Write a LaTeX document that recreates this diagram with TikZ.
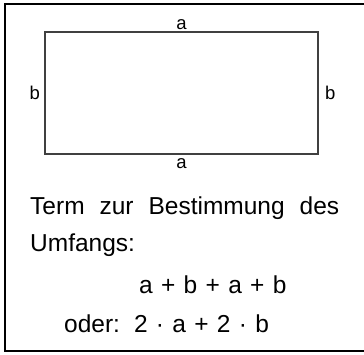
\documentclass[tikz,border=0pt]{standalone}
\usepackage{fontspec}
\setmainfont{Liberation Sans}
\usetikzlibrary{positioning,calc}
\definecolor{framecol}{RGB}{0,0,0}
\definecolor{rectcol}{RGB}{64,64,64}
\newcommand{\eqgap}{\hspace{8.3pt}}

\begin{document}
\begin{tikzpicture}[
    x=1pt, y=1pt,
    outer/.style={draw=framecol, line width=2pt},
    rectbox/.style={draw=rectcol, line width=2pt, inner sep=0pt,
                    minimum width=273pt, minimum height=122pt},
    sidelab/.style={font=\fontsize{18.5}{18.5}\selectfont, inner sep=0pt},
    txt/.style={font=\fontsize{24.5}{24.5}\selectfont, inner sep=0pt, anchor=base west},
]
\useasboundingbox (0,0) rectangle (364,-354);

% ---- Frame ----
\draw[outer] (5,-3.5) rectangle (365,-350.5);

% ---- Rectangle with sides ----
\node[rectbox] (rect) at (181.5,-93) {};
\node[sidelab, above=1pt of rect] (atop) {a};
\node[sidelab, below=3pt of rect] (abot) {a};
\node[sidelab, left=4pt of rect] (bleft) {b};
\node[sidelab, right=6pt of rect] (bright) {b};

% ---- Term ----
\node[txt] (l1) at (30,-214) {\makebox[309pt][s]{Term zur Bestimmung des}};
\node[txt] (l2) at ($(l1.base west)+(0,-37)$) {Umfangs:};
\node[txt] (l3) at (139,-293) {a\eqgap+\eqgap b\eqgap+\eqgap a\eqgap+\eqgap b};
\node[txt] (l4) at (64,-332) {oder:\hspace{14pt}2\eqgap·\eqgap a\eqgap+\eqgap 2\eqgap·\eqgap b};

\end{tikzpicture}
\end{document}
